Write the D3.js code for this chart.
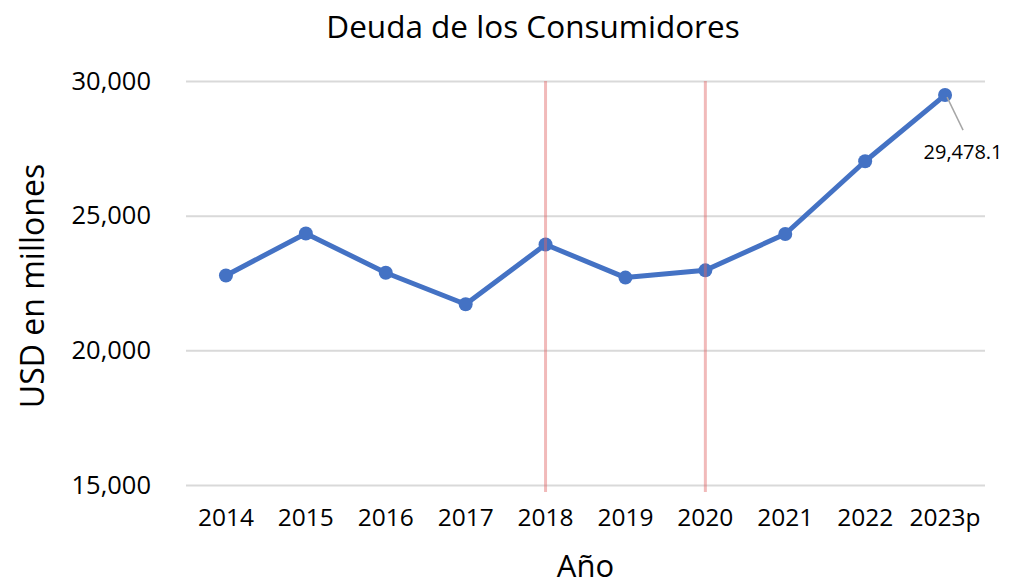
<!DOCTYPE html>
<html>
<head>
<meta charset="utf-8">
<script src="https://cdn.jsdelivr.net/npm/d3@7"></script>
<style>
  body { margin: 0; background: #fff; }
  svg { font-family: 'Open Sans', sans-serif; }
</style>
</head>
<body>
<svg id="chart" width="1009" height="587"></svg>
<script>
(function (d3) {
  'use strict';

  // data
  const years = ['2014', '2015', '2016', '2017', '2018', '2019', '2020', '2021', '2022', '2023p'];
  const debt = [22780, 24340, 22880, 21710, 23930, 22700, 22970, 24320, 27020, 29478.1];
  const yTicks = [15000, 20000, 25000, 30000];
  const markedYears = ['2018', '2020'];
  const labelledYear = '2023p';

  const width = 1009;
  const height = 587;
  const margin = { top: 81, right: 24, bottom: 102, left: 186 };
  const innerWidth = width - margin.left - margin.right;
  const innerHeight = height - margin.top - margin.bottom;

  const svg = d3.select('svg#chart');

  const xScale = d3.scaleBand()
    .domain(years)
    .range([0, innerWidth]);

  const yScale = d3.scaleLinear()
    .domain([15000, 30000])
    .range([innerHeight, 0]);

  const xPos = d => xScale(d) + xScale.bandwidth() / 2;
  const fmt = d3.format(',');

  const g = svg.append('g')
    .attr('transform', `translate(${margin.left},${margin.top})`);

  // y axis + gridlines
  const yAxisG = g.append('g')
    .call(d3.axisLeft(yScale)
      .tickValues(yTicks)
      .tickFormat(fmt)
      .tickSize(-innerWidth)
      .tickPadding(35));
  yAxisG.select('.domain').remove();
  yAxisG.selectAll('line')
    .attr('stroke', '#d9d9d9')
    .attr('stroke-width', 2);
  yAxisG.selectAll('text')
    .attr('font-size', 25.5)
    .attr('font-family', "'Open Sans', sans-serif")
    .attr('fill', '#000');

  // x axis
  const xAxisG = g.append('g')
    .attr('transform', `translate(0,${innerHeight})`)
    .call(d3.axisBottom(xScale).tickSize(0).tickPadding(24));
  xAxisG.select('.domain').remove();
  xAxisG.selectAll('text')
    .attr('font-size', 24.5)
    .attr('font-family', "'Open Sans', sans-serif")
    .attr('fill', '#000');

  // line
  const line = d3.line()
    .x((d, i) => xPos(years[i]))
    .y(d => yScale(d));

  g.append('path')
    .datum(debt)
    .attr('fill', 'none')
    .attr('stroke', '#4472c4')
    .attr('stroke-width', 5)
    .attr('stroke-linejoin', 'round')
    .attr('d', line);

  g.selectAll('circle.dot').data(debt)
    .enter().append('circle')
      .attr('class', 'dot')
      .attr('cx', (d, i) => xPos(years[i]))
      .attr('cy', d => yScale(d))
      .attr('r', 7)
      .attr('fill', '#4472c4');

  // red marker lines
  g.selectAll('line.mark').data(markedYears)
    .enter().append('line')
      .attr('class', 'mark')
      .attr('x1', d => xPos(d))
      .attr('x2', d => xPos(d))
      .attr('y1', 0)
      .attr('y2', innerHeight + 7)
      .attr('stroke', '#e06666')
      .attr('stroke-opacity', 0.45)
      .attr('stroke-width', 3);

  // data label for last point
  const li = years.indexOf(labelledYear);
  const lx = xPos(labelledYear);
  const ly = yScale(debt[li]);
  g.append('line')
    .attr('x1', lx + 2)
    .attr('y1', ly + 2)
    .attr('x2', lx + 18)
    .attr('y2', ly + 35)
    .attr('stroke', '#a6a6a6')
    .attr('stroke-width', 1.5);
  g.append('text')
    .attr('x', lx + 18)
    .attr('y', ly + 64)
    .attr('text-anchor', 'middle')
    .attr('font-size', 20)
    .attr('fill', '#000')
    .text(fmt(debt[li]));

  // titles
  svg.append('text')
    .attr('x', 533)
    .attr('y', 38)
    .attr('text-anchor', 'middle')
    .attr('font-size', 31.5)
    .attr('fill', '#000')
    .text('Deuda de los Consumidores');

  svg.append('text')
    .attr('transform', `translate(44,${margin.top + innerHeight / 2 + 3}) rotate(-90)`)
    .attr('text-anchor', 'middle')
    .attr('font-size', 32)
    .attr('fill', '#000')
    .text('USD en millones');

  svg.append('text')
    .attr('x', margin.left + innerWidth / 2)
    .attr('y', 577)
    .attr('text-anchor', 'middle')
    .attr('font-size', 31)
    .attr('fill', '#000')
    .text('Año');

}(d3));
</script>
</body>
</html>
